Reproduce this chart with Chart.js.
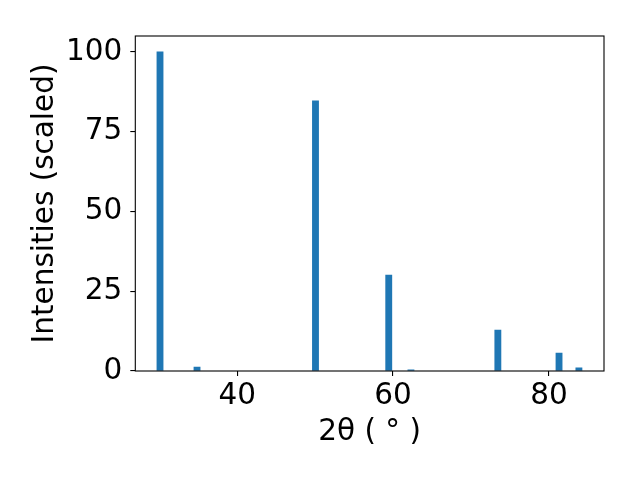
<!DOCTYPE html>
<html>
<head>
<meta charset="utf-8">
<script src="https://cdn.jsdelivr.net/npm/chart.js@4/dist/chart.umd.min.js"></script>
<style>
  html, body { margin: 0; padding: 0; background: #fff; }
  #wrap { width: 640px; height: 480px; }
</style>
</head>
<body>
<div id="wrap"><canvas id="chart" width="640" height="480"></canvas></div>
<script>
// peak positions (2theta, degrees) and scaled intensities
const positions = [30.1, 34.85, 50.05, 59.45, 62.3, 73.45, 81.3, 83.85];
const intensities = [100, 1.2, 84.7, 30.1, 0.4, 12.8, 5.6, 1.0];
const xTicks = [40, 60, 80];
const yTicks = [0, 25, 50, 75, 100];

const FONT = { family: 'DejaVu Sans', size: 29.5 };

// full black box around the plot area
const frame = {
  id: 'frame',
  afterDatasetsDraw(chart){
    const { ctx, chartArea: a } = chart;
    ctx.save();
    ctx.strokeStyle = '#000';
    ctx.lineWidth = 1.1;
    ctx.strokeRect(a.left, a.top, a.right - a.left, a.bottom - a.top);
    ctx.restore();
  }
};

const points = positions.map((x, i) => ({ x, y: intensities[i] }));

new Chart(document.getElementById('chart').getContext('2d'), {
  type: 'bar',
  data: {
    datasets: [{
      data: points,
      backgroundColor: '#1f77b4',
      borderWidth: 0,
      barThickness: 6.2
    }]
  },
  options: {
    responsive: false,
    animation: false,
    layout: { padding: { left: 0, top: 36, right: 36, bottom: 0 } },
    plugins: { legend: { display: false }, tooltip: { enabled: false } },
    scales: {
      x: {
        type: 'linear',
        offset: false,
        min: 26.93,
        max: 87.07,
        afterBuildTicks: s => { s.ticks = xTicks.map(v => ({ value: v })); },
        afterFit: s => { s.height = 109; },
        grid: { display: true, drawOnChartArea: false, drawTicks: true, tickLength: 5, color: '#000', lineWidth: 1.1, offset: false },
        border: { display: false },
        ticks: { color: '#000', font: FONT, padding: 3, maxRotation: 0 },
        title: { display: true, text: '2θ ( ° )', color: '#000', font: FONT, padding: { top: 0, bottom: 30 } }
      },
      y: {
        min: 0,
        max: 105,
        afterBuildTicks: s => { s.ticks = yTicks.map(v => ({ value: v })); },
        afterFit: s => { s.width = 135.3; },
        grid: { display: true, drawOnChartArea: false, drawTicks: true, tickLength: 5, color: '#000', lineWidth: 1.1 },
        border: { display: false },
        ticks: { color: '#000', font: FONT, padding: 8 },
        title: { display: true, text: 'Intensities (scaled)', color: '#000', font: FONT, padding: { top: 28, bottom: 0 } }
      }
    }
  },
  plugins: [frame]
});
</script>
</body>
</html>
